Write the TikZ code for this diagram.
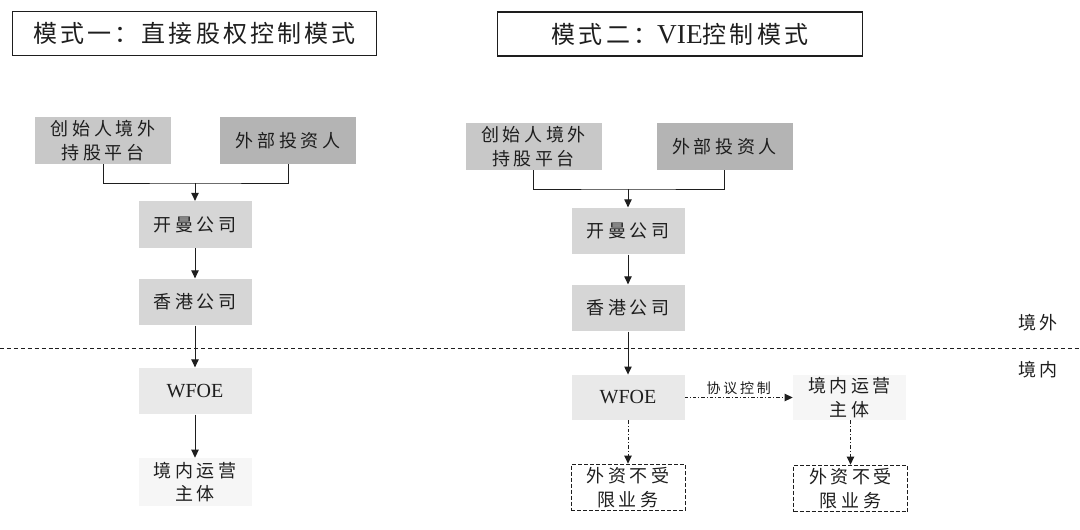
\documentclass[tikz,border=0pt]{standalone}
\usepackage{fontspec}
\setmainfont{Liberation Serif}
\newfontfamily\cjk{Noto Sans CJK SC}[LetterSpace=20]
\newfontfamily\cjkt{Noto Sans CJK SC}[LetterSpace=13]
\usetikzlibrary{arrows.meta}
\definecolor{gA}{RGB}{200,200,200}
\definecolor{gB}{RGB}{180,180,180}
\definecolor{gC}{RGB}{214,214,214}
\definecolor{gD}{RGB}{233,233,233}
\definecolor{gE}{RGB}{246,246,246}
\definecolor{ink}{RGB}{30,30,30}
\begin{document}
\begin{tikzpicture}[x=0.75pt,y=-0.75pt,
  box/.style={inner sep=0pt, text=ink, align=center, minimum width=84.75pt, minimum height=35pt,
    font=\cjk\fontsize{13.5}{17.5}\selectfont},
  topbox/.style={box, minimum width=102pt, minimum height=35.25pt},
  titlebox/.style={draw=ink, line width=0.9pt, fill=white, inner sep=0pt, text=ink,
    minimum width=273.5pt, minimum height=32.5pt, font=\cjkt\fontsize{18}{22}\selectfont},
  dbox/.style={box, draw=ink, line width=0.75pt, dash pattern=on 3pt off 1.5pt, fill=white, minimum width=85.5pt},
  tip/.style={-{Triangle[length=6pt,width=5.5pt]}},
  ln/.style={draw=ink, line width=0.75pt},
  arr/.style={ln, tip},
  dd/.style={ln, tip, dash pattern=on 2.5pt off 1.5pt on 0.75pt off 1.5pt},
  zone/.style={inner sep=0pt, text=ink, font=\cjk\fontsize{13.5}{16}\selectfont},
  lbl/.style={inner sep=1.8pt, text=ink, font=\cjk\fontsize{10.5}{12}\selectfont},
  latin/.style={font=\rmfamily\fontsize{15}{18}\selectfont}]
\useasboundingbox[fill=white] (0,0) rectangle (1080,529);

% divider
\coordinate (dl) at (0,348);
\coordinate (dr) at (1080,348);
\draw[ink, line width=0.7pt, dash pattern=on 3pt off 2.2pt] (dl) -- (dr);
\node[zone] (zw) at (1038,323) {境外};
\node[zone] (zn) at (1038,370) {境内};

% titles
\node[titlebox] (t1) at (194.5,33.5) {模式一：直接股权控制模式};
\node[titlebox, minimum height=33pt] (t2) at (680,34) {模式二：{\rmfamily\fontsize{20.5}{22}\selectfont VIE}控制模式};

% mode 1
\node[topbox, fill=gA] (f1) at (103,140.5) {创始人境外\\持股平台};
\node[topbox, fill=gB] (i1) at (288,140.5) {外部投资人};
\coordinate (j1) at (195,183);
\node[box, fill=gC] (k1) at (195,224.5) {开曼公司};
\node[box, fill=gC] (h1) at (195,302) {香港公司};
\node[box, fill=gD, latin] (w1) at (195,391) {WFOE};
\node[box, fill=gE, minimum height=36pt] (o1) at (195,482) {境内运营\\主体};

\draw[ln] (f1.south) |- (j1) -| (i1.south);
\draw[arr] (j1) -- (k1.north);
\draw[arr] (k1) -- (h1);
\draw[arr] (h1) -- (w1);
\draw[arr] (w1) -- (o1);

% mode 2
\node[topbox, fill=gA] (f2) at (533.5,146.5) {创始人境外\\持股平台};
\node[topbox, fill=gB] (i2) at (724.5,146.5) {外部投资人};
\coordinate (j2) at (628,189);
\node[box, fill=gC] (k2) at (628,231) {开曼公司};
\node[box, fill=gC] (h2) at (628,308) {香港公司};
\node[box, fill=gD, latin, minimum height=34pt] (w2) at (628,397.5) {WFOE};
\node[box, fill=gE, minimum height=34pt] (o2) at (849.5,397.5) {境内运营\\主体};
\node[dbox] (b1) at (628,487.5) {外资不受\\限业务};
\node[dbox] (b2) at (850.5,488.5) {外资不受\\限业务};

\draw[ln] (f2.south) |- (j2) -| (i2.south);
\draw[arr] (j2) -- (k2.north);
\draw[arr] (k2) -- (h2);
\draw[arr] (h2) -- (w2);
\draw[dd] (w2) -- node[lbl, above] (xy) {协议控制} (o2);
\draw[dd] (w2) -- (b1);
\draw[dd] (o2.south -| b2.north) -- (b2.north);
\end{tikzpicture}
\end{document}
